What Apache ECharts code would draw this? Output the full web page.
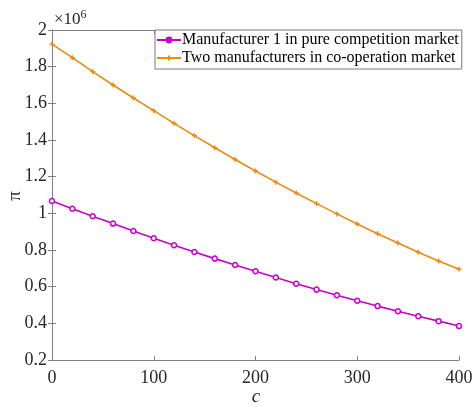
<!DOCTYPE html>
<html>
<head>
<meta charset="utf-8">
<script src="https://cdn.jsdelivr.net/npm/echarts@6/dist/echarts.min.js"></script>
<style>
  html, body { margin: 0; padding: 0; background: #fff; }
  #chart { width: 475px; height: 407px; }
</style>
</head>
<body>
<div id="chart"></div>
<script>
// Cost parameter c
const costC = [0, 20, 40, 60, 80, 100, 120, 140, 160, 180, 200,
               220, 240, 260, 280, 300, 320, 340, 360, 380, 400];

// Profit of manufacturer 1 under pure competition (units of 1e6)
const profitCompetition = [1.067, 1.025, 0.984, 0.944, 0.904, 0.864, 0.826, 0.789, 0.753, 0.718, 0.684,
                           0.650, 0.616, 0.584, 0.553, 0.523, 0.494, 0.466, 0.439, 0.412, 0.385];

// Joint profit of the two manufacturers under co-operation (units of 1e6)
const profitCooperation = [1.923, 1.849, 1.773, 1.700, 1.629, 1.560, 1.491, 1.424, 1.358, 1.294, 1.231,
                           1.170, 1.111, 1.053, 0.997, 0.942, 0.889, 0.838, 0.788, 0.740, 0.695];

const seriesNames = ['Manufacturer 1 in pure competition market',
                     'Two manufacturers in co-operation market'];
const xTicks = [0, 100, 200, 300, 400];
const yTicks = [0.2, 0.4, 0.6, 0.8, 1, 1.2, 1.4, 1.6, 1.8, 2];

const SCALE = 1e6;
const toPairs = vals => costC.map((c, i) => [c, vals[i] * SCALE]);

const serif = 'Liberation Serif';
const axisGray = '#808080';
const textDark = '#262626';
const magenta = '#c800c8';
const orange = '#ec8a12';
const plusPath = 'path://M0,5 L10,5 M5,0 L5,10';

const chart = echarts.init(document.getElementById('chart'), null, { renderer: 'canvas' });

const baseX = {
  type: 'value', min: xTicks[0], max: xTicks[xTicks.length - 1], interval: 100,
  axisLine: { show: true, lineStyle: { color: axisGray, width: 1 } },
  axisTick: { show: true, inside: true, length: 4, lineStyle: { color: axisGray } },
  splitLine: { show: false }
};
const baseY = {
  type: 'value', min: yTicks[0] * SCALE, max: yTicks[yTicks.length - 1] * SCALE, interval: 0.2 * SCALE,
  axisLine: { show: true, lineStyle: { color: axisGray, width: 1 } },
  axisTick: { show: true, inside: true, length: 4, lineStyle: { color: axisGray } },
  splitLine: { show: false }
};

chart.setOption({
  animation: false,
  backgroundColor: '#fff',
  textStyle: { fontFamily: serif },
  grid: { left: 52, right: 16, top: 30, bottom: 47, containLabel: false, outerBoundsMode: 'none' },
  legend: {
    left: 155, top: 30,
    orient: 'vertical',
    backgroundColor: '#fff',
    borderColor: '#7a7a7a', borderWidth: 1, borderRadius: 0,
    padding: [2, 3, 3, 1],
    itemGap: 2,
    itemWidth: 24, itemHeight: 6,
    textStyle: { fontFamily: serif, fontSize: 16, color: '#000', padding: [0, 0, 0, -4] },
    data: [
      { name: seriesNames[0], itemStyle: { color: magenta, borderColor: magenta } },
      { name: seriesNames[1] }
    ]
  },
  xAxis: [
    Object.assign({}, baseX, {
      position: 'bottom',
      axisLabel: { fontFamily: serif, fontSize: 18, color: textDark, margin: 9 }
    }),
    Object.assign({}, baseX, { position: 'top', axisLabel: { show: false } })
  ],
  yAxis: [
    Object.assign({}, baseY, {
      position: 'left',
      axisLabel: {
        fontFamily: serif, fontSize: 18, color: textDark, margin: 5,
        formatter: v => String(+(v / SCALE).toFixed(1))
      }
    }),
    Object.assign({}, baseY, { position: 'right', axisLabel: { show: false } })
  ],
  graphic: [
    {
      // exponent note above the y axis
      type: 'text', left: 54, top: 9,
      style: {
        text: '×10{sup|6}',
        font: '17px ' + serif,
        fill: textDark,
        rich: { sup: { fontSize: 12, fontFamily: serif, verticalAlign: 'top', padding: [0, 0, 9, 0] } }
      }
    },
    {
      // y axis title
      type: 'text', x: 15, y: 196, rotation: Math.PI / 2,
      style: { text: 'π', font: '19px ' + serif, fill: textDark, align: 'center', verticalAlign: 'middle' }
    },
    {
      // x axis title
      type: 'text', x: 256, y: 397,
      style: { text: 'c', font: 'italic 19px ' + serif, fill: textDark, align: 'center', verticalAlign: 'middle' }
    }
  ],
  series: [
    {
      name: seriesNames[0], type: 'line', data: toPairs(profitCompetition),
      xAxisIndex: 0, yAxisIndex: 0,
      symbol: 'circle', symbolSize: 5, showAllSymbol: true,
      lineStyle: { color: magenta, width: 1.6 },
      itemStyle: { color: '#ffffff', borderColor: magenta, borderWidth: 1.5 }
    },
    {
      name: seriesNames[1], type: 'line', data: toPairs(profitCooperation),
      xAxisIndex: 0, yAxisIndex: 0,
      symbol: plusPath, symbolSize: 5, showAllSymbol: true,
      lineStyle: { color: orange, width: 1.6 },
      itemStyle: { color: orange, borderColor: orange, borderWidth: 1.4 }
    }
  ]
});
</script>
</body>
</html>
